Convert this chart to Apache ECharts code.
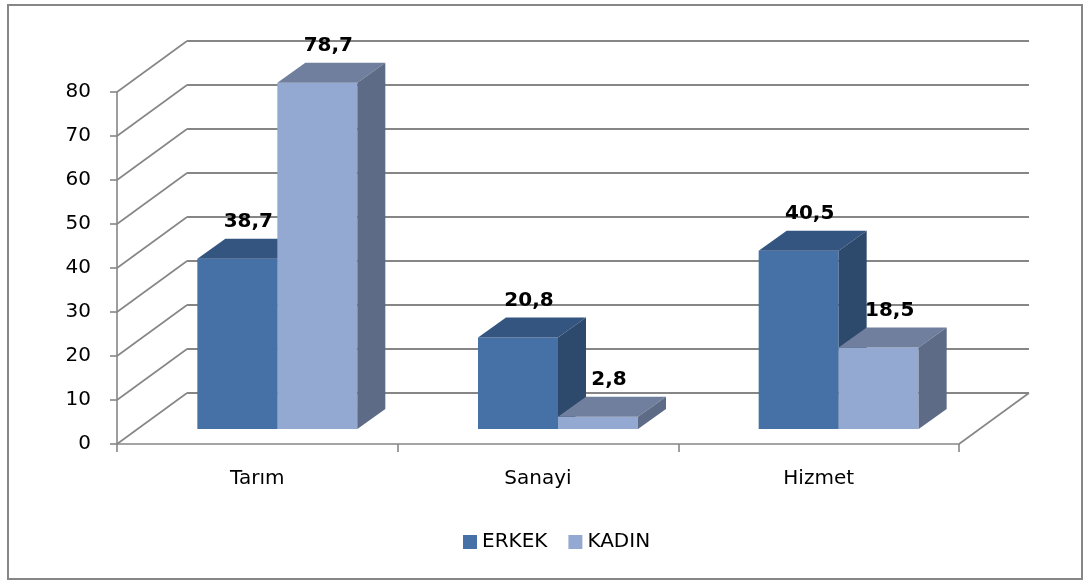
<!DOCTYPE html>
<html>
<head>
<meta charset="utf-8">
<script src="https://cdn.jsdelivr.net/npm/echarts@6/dist/echarts.min.js"></script>
<style>
html,body{margin:0;padding:0;background:#fff;}
#chart{width:1088px;height:581px;}
</style>
</head>
<body>
<div id="chart"></div>
<script>
var categories = ['Tarım', 'Sanayi', 'Hizmet'];
var erkek = [38.7, 20.8, 40.5];
var kadin = [78.7, 2.8, 18.5];
var yTicks = [0, 10, 20, 30, 40, 50, 60, 70, 80];
var seriesNames = ['ERKEK', 'KADIN'];

var FONT = 'DejaVu Sans';
var WALL_DX = 70, WALL_DY = -51;
var FRONT_DX = 20, FRONT_DY = -15;
var BAR_DX = 28, BAR_DY = -20;
var BAR_FRAC = 0.285;
var LINE = '#868686';
var palettes = [
  {front: '#4571A6', top: '#34557F', side: '#2D4A6D'},
  {front: '#94A9D1', top: '#707F9D', side: '#5D6B86'}
];

function fmt(v) { return String(v).replace('.', ','); }

function wallRender(params, api) {
  var cs = params.coordSys;
  var v = api.value(1);
  var y = api.coord([0, v])[1];
  var xl = cs.x, xr = cs.x + cs.width;
  var ch = [
    {type: 'line', shape: {x1: xl, y1: y, x2: xl + WALL_DX, y2: y + WALL_DY}, style: {stroke: LINE, lineWidth: 1.6}},
    {type: 'line', shape: {x1: xl + WALL_DX, y1: y + WALL_DY, x2: xr + WALL_DX, y2: y + WALL_DY}, style: {stroke: LINE, lineWidth: 2}}
  ];
  if (v === 0) {
    ch.push({type: 'line', shape: {x1: xr, y1: y, x2: xr + WALL_DX, y2: y + WALL_DY}, style: {stroke: LINE, lineWidth: 1.6}});
  }
  return {type: 'group', children: ch};
}

function barRender(si) {
  return function (params, api) {
    var cat = api.value(0), val = api.value(1);
    var top = api.coord([cat, val]);
    var base = api.coord([cat, 0]);
    var band = api.size([1, 0])[0];
    var w = band * BAR_FRAC;
    var x0 = top[0] + (si === 0 ? -w : 0) + FRONT_DX;
    var x1 = x0 + w;
    var yt = top[1] + FRONT_DY, yb = base[1] + FRONT_DY;
    var p = palettes[si];
    return {type: 'group', children: [
      {type: 'rect', shape: {x: x0, y: yt, width: w, height: yb - yt}, style: {fill: p.front}},
      {type: 'polygon', shape: {points: [[x0, yt], [x1, yt], [x1 + BAR_DX, yt + BAR_DY], [x0 + BAR_DX, yt + BAR_DY]]}, style: {fill: p.top}},
      {type: 'polygon', shape: {points: [[x1, yt], [x1 + BAR_DX, yt + BAR_DY], [x1 + BAR_DX, yb + BAR_DY], [x1, yb]]}, style: {fill: p.side}},
      {type: 'text', z2: 100, style: {
        text: fmt(val), x: x0 + w / 2 + BAR_DX / 2 - 3, y: yt + BAR_DY - 17,
        align: 'center', verticalAlign: 'middle',
        font: 'bold 20px "' + FONT + '"', fill: '#000'
      }}
    ]};
  };
}

var chart = echarts.init(document.getElementById('chart'));
chart.setOption({
  animation: false,
  backgroundColor: '#fff',
  graphic: [{
    type: 'rect', shape: {x: 8, y: 5, width: 1074, height: 574},
    style: {fill: 'none', stroke: '#868686', lineWidth: 2}, silent: true
  }],
  grid: {left: 117, right: 129, top: 92, bottom: 137},
  legend: {
    data: seriesNames, left: 458, top: 527, icon: 'rect',
    itemWidth: 14, itemHeight: 14, itemGap: 21,
    textStyle: {fontFamily: FONT, fontSize: 20, color: '#000'}
  },
  xAxis: {
    type: 'category', data: categories,
    axisLine: {lineStyle: {color: LINE, width: 1.6}},
    axisTick: {show: true, length: 8, lineStyle: {color: LINE, width: 1.6}},
    axisLabel: {fontFamily: FONT, fontSize: 20, color: '#000', margin: 25},
    splitLine: {show: false}
  },
  yAxis: {
    type: 'value', min: 0, max: 80, interval: 10,
    axisLine: {show: true, lineStyle: {color: LINE, width: 1.6}},
    axisTick: {show: true, length: 7, lineStyle: {color: LINE, width: 1.6}},
    axisLabel: {fontFamily: FONT, fontSize: 20, color: '#000', margin: 26},
    splitLine: {show: false}
  },
  series: [
    {type: 'custom', name: 'wall', clip: false, silent: true, renderItem: wallRender,
      data: yTicks.map(function (v) { return [0, v]; }), z: 1},
    {type: 'custom', name: seriesNames[0], clip: false, renderItem: barRender(0),
      itemStyle: {color: palettes[0].front}, color: palettes[0].front,
      data: erkek.map(function (v, i) { return [i, v]; }), z: 3},
    {type: 'custom', name: seriesNames[1], clip: false, renderItem: barRender(1),
      itemStyle: {color: palettes[1].front}, color: palettes[1].front,
      data: kadin.map(function (v, i) { return [i, v]; }), z: 3}
  ]
});
</script>
</body>
</html>
